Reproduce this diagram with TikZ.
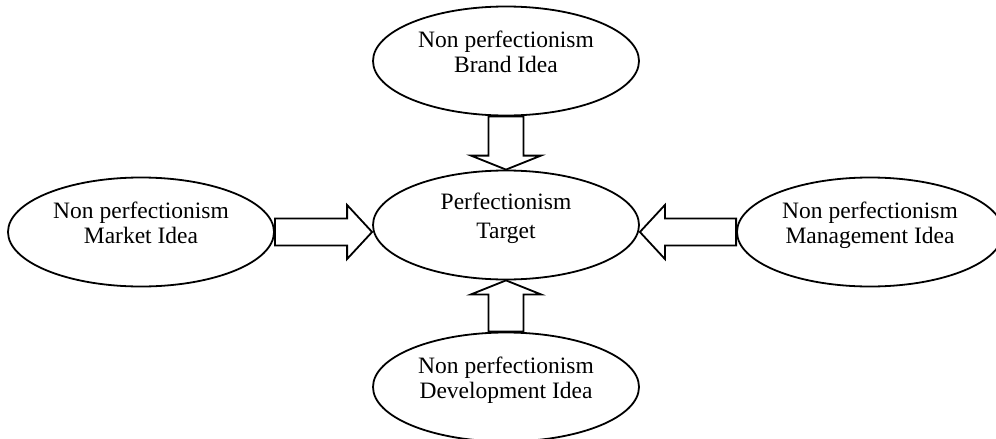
\documentclass[tikz,border=0pt]{standalone}
\usepackage{fontspec}
\setmainfont{Liberation Serif}
\usetikzlibrary{calc,shapes.geometric}

% block arrow from #1 to the tip #2: shaft half width #3, head half width #4, head length #5
\newcommand{\blockarrow}[5]{%
  \coordinate (hb) at ($(#2)!#5!(#1)$);
  \draw[arrowbody]
    ($(#1)!#3!90:(#2)$) -- ($(hb)!#3!90:(#2)$) -- ($(hb)!#4!90:(#2)$)
    -- (#2)
    -- ($(hb)!#4!-90:(#2)$) -- ($(hb)!#3!-90:(#2)$) -- ($(#1)!#3!-90:(#2)$) -- cycle;
}

\begin{document}
\begin{tikzpicture}[x=1pt, y=-1pt,
  idea/.style={ellipse, draw, line width=1.8pt, minimum width=266pt, minimum height=109pt,
    inner sep=0pt, align=center, text depth=19pt,
    font=\fontsize{23.5}{25.5}\selectfont},
  arrowbody/.style={draw, fill=white, line width=1.8pt, line join=miter}
]
\useasboundingbox (0,0) rectangle (996,439);
\node[idea, font=\fontsize{23.5}{28.5}\selectfont] (target) at (506,225) {Perfectionism\\Target};
\node[idea] (brand) at (506,61) {Non perfectionism\\Brand Idea};
\node[idea] (market) at (141,232) {Non perfectionism\\Market Idea};
\node[idea] (mgmt) at (870,232) {Non perfectionism\\Management Idea};
\node[idea] (devel) at (506,387) {Non perfectionism\\Development Idea};
% arrows into the target
\blockarrow{brand.south}{target.north}{17.5pt}{35pt}{14pt}
\blockarrow{devel.north}{target.south}{17.5pt}{35pt}{14pt}
\blockarrow{market.east}{target.west |- market.east}{13.5pt}{27pt}{25pt}
\blockarrow{mgmt.west}{target.east |- mgmt.west}{13.5pt}{27pt}{25pt}
\end{tikzpicture}
\end{document}
